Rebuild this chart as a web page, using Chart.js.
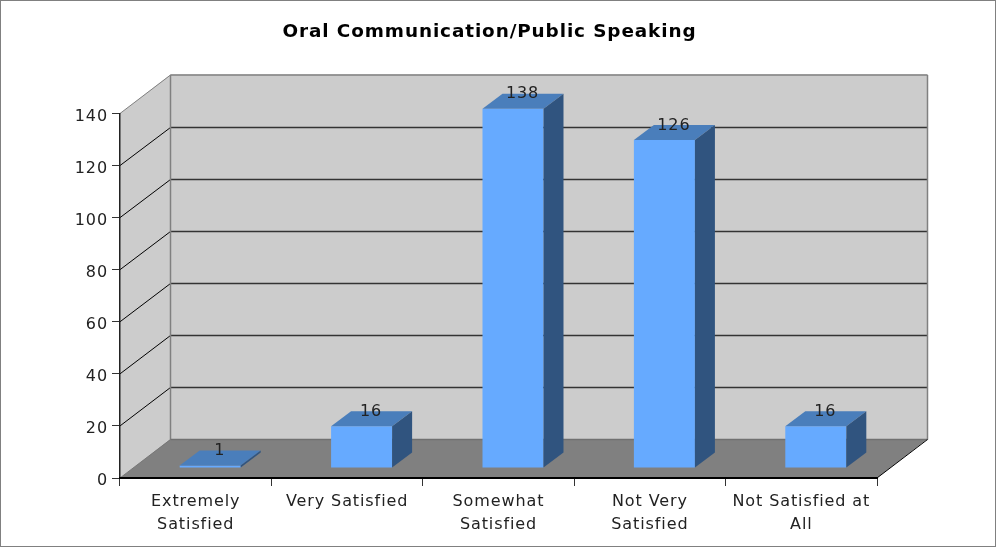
<!DOCTYPE html>
<html><head><meta charset="utf-8">
<style>html,body{margin:0;padding:0;background:#fff}canvas{display:block}</style>
<script src="https://cdn.jsdelivr.net/npm/chart.js@4"></script>
</head><body><canvas id="c" width="996" height="548"></canvas>
<script>
const categories = [["Extremely","Satisfied"],"Very Satisfied",["Somewhat","Satisfied"],["Not Very","Satisfied"],["Not Satisfied at","All"]];
const values = [1,16,138,126,16];
const titleText = "Oral Communication/Public Speaking";
const FONT = "'DejaVu Sans'";
const wallD = {x:50.5,y:-39}, barOff = {x:14.5,y:-10}, barD = {x:20,y:-15};
function poly(ctx,pts,fill){ctx.beginPath();pts.forEach((p,i)=>i?ctx.lineTo(p[0],p[1]):ctx.moveTo(p[0],p[1]));ctx.closePath();ctx.fillStyle=fill;ctx.fill();}
function line(ctx,a,b,col,w){ctx.beginPath();ctx.moveTo(a[0],a[1]);ctx.lineTo(b[0],b[1]);ctx.strokeStyle=col;ctx.lineWidth=w;ctx.stroke();}
const spacing = {id:'spacing',
  afterLayout(ch){ch.titleBlock.left=0;ch.titleBlock.right=979;},
  beforeDraw(ch){ch.ctx.letterSpacing='0.9px';}};
const walls = {id:'walls',beforeDatasetsDraw(ch){
  const c=ch.ctx,y=ch.scales.y,x=ch.scales.x,L=x.left,R=x.right,T=y.top,B=y.bottom,dx=wallD.x,dy=wallD.y;
  c.save();
  poly(c,[[L,T],[L+dx,T+dy],[R+dx,T+dy],[R+dx,B+dy],[L+dx,B+dy],[L,B]],'#cccccc');
  poly(c,[[L,B],[L+dx,B+dy],[R+dx,B+dy],[R,B]],'#808080');
  const lx=Math.floor(L+dx)+.5,rx=Math.floor(R+dx)+.5,ty=Math.round(T+dy)+1,by=Math.round(B+dy)+.5;
  y.ticks.forEach(t=>{const p=y.getPixelForValue(t.value);
    if(t.value>0&&t.value<y.max){const q=Math.round(p+dy)+.5;line(c,[L,p],[lx,q],'#000',1);line(c,[lx,q],[rx,q],'#333',1.5);}
  });
  line(c,[L,T],[lx,ty],'#808080',1);line(c,[lx,ty],[rx,ty],'#808080',1.5);
  line(c,[lx,ty],[lx,by],'#808080',1.5);line(c,[rx,ty],[rx,by],'#808080',1.5);
  line(c,[L,B],[lx,by],'#777',1);line(c,[lx,by],[rx,by],'#707070',1.5);
  line(c,[R,B],[rx,by],'#000',1);
  c.restore();
}};
const bars3d = {id:'bars3d',
 beforeDatasetDraw(ch){ch.ctx.save();ch.ctx.translate(barOff.x,barOff.y);},
 afterDatasetDraw(ch){
  const c=ch.ctx;
  ch.getDatasetMeta(0).data.forEach(b=>{
    const l=b.x-b.width/2,r=b.x+b.width/2,t=b.y,h=b.base,dx=barD.x,dy=barD.y;
    poly(c,[[l,t],[l+dx,t+dy],[r+dx,t+dy],[r,t]],'#4a7ebb');
    poly(c,[[r,t],[r+dx,t+dy],[r+dx,h+dy],[r,h]],'#30547f');
  });
  c.restore();
  c.save();c.font="16px "+FONT;c.fillStyle='#222';c.textAlign='center';c.textBaseline='middle';
  ch.getDatasetMeta(0).data.forEach((b,i)=>{
    c.fillText(String(values[i]),b.x+barOff.x+barD.x/2-.5,b.y+barOff.y+barD.y+.5);
  });
  c.restore();
 }};
const frame = {id:'frame',afterDraw(ch){const c=ch.ctx;c.save();c.strokeStyle='#808080';c.lineWidth=1;c.strokeRect(.5,.5,995,546);c.restore();}};
new Chart(document.getElementById('c'),{
  type:'bar',
  data:{labels:categories,datasets:[{data:values,backgroundColor:'#66aaff',borderWidth:0,categoryPercentage:.403,barPercentage:1}]},
  plugins:[spacing,walls,bars3d,frame],
  options:{responsive:false,animation:false,
    layout:{padding:{left:0,right:119,top:0,bottom:0}},
    plugins:{legend:{display:false},tooltip:{enabled:false},
      title:{display:true,text:titleText,color:'#000',font:{family:FONT,size:18.4,weight:'bold',lineHeight:1.2},padding:{top:21,bottom:70.4}}},
    scales:{
      x:{afterFit(s){s.height=70;},
         grid:{z:1,drawOnChartArea:false,drawTicks:true,tickLength:8,color:'#333',offset:true},
         border:{z:2,color:'#000',width:2},
         ticks:{color:'#222',font:{family:FONT,size:16,lineHeight:1.44},maxRotation:0,minRotation:0,autoSkip:false,padding:4}},
      y:{min:0,max:140,afterFit(s){s.width=120;},
         grid:{z:1,drawOnChartArea:false,drawTicks:true,tickLength:8,color:'#333'},
         border:{z:1,color:'#222',width:1.5},
         ticks:{stepSize:20,color:'#222',font:{family:FONT,size:16},padding:4,labelOffset:3}}
    }}
});
</script></body></html>
